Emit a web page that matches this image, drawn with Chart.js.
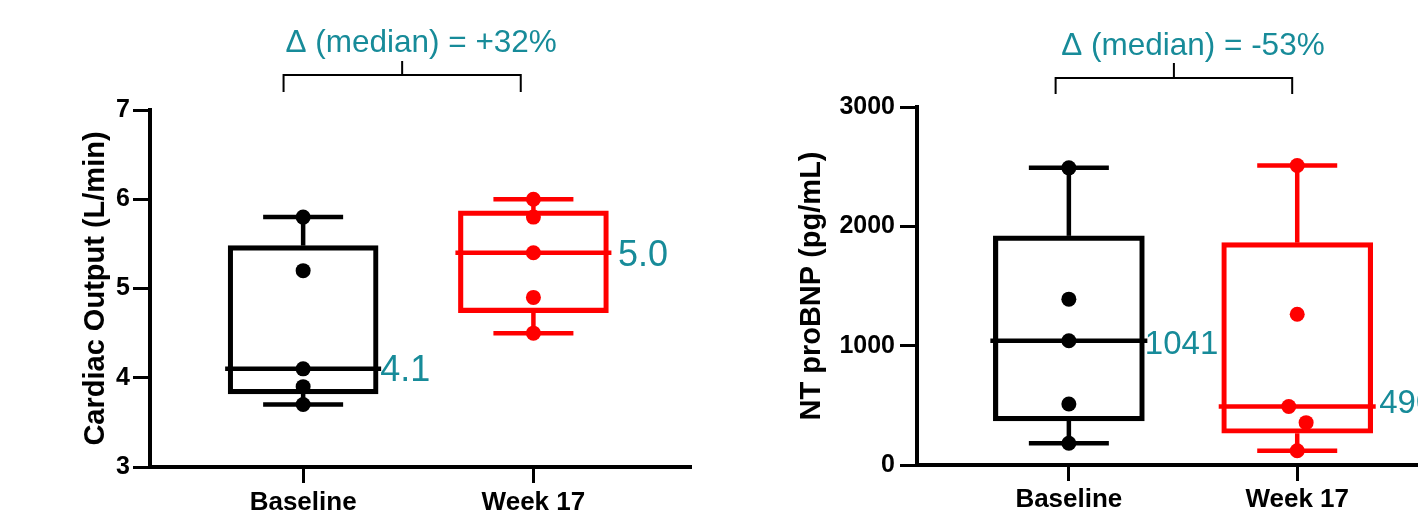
<!DOCTYPE html>
<html>
<head>
<meta charset="utf-8">
<script src="https://cdn.jsdelivr.net/npm/chart.js@4.4.1/dist/chart.umd.min.js"></script>
<style>
html, body { margin:0; padding:0; background:#fff; overflow:hidden; width:1418px; height:516px; }
#c1 { position:absolute; left:0; top:0; }
#c2 { position:absolute; left:700px; top:0; }
</style>
</head>
<body>
<canvas id="c1" width="700" height="516"></canvas>
<canvas id="c2" width="760" height="516"></canvas>
<script>
// ---------- data ----------
const CATEGORIES = ['Baseline', 'Week 17'];

// Cardiac output (L/min)
const CO_TICKS = [3, 4, 5, 6, 7];
const CO_BASELINE_POINTS = [5.8, 5.2, 4.1, 3.9, 3.7];
const CO_WEEK17_POINTS = [6.0, 5.8, 5.4, 4.9, 4.5];
const CO_MIN = [3.7, 4.5];
const CO_Q1 = [3.82, 4.73];
const CO_MEDIAN = [4.1, 5.4];
const CO_Q3 = [5.48, 5.87];
const CO_MAX = [5.8, 6.0];
const CO_MEDIAN_LABELS = ['4.1', '5.0'];
const CO_DELTA_TEXT = 'Δ (median) = +32%';
const CO_TITLE = 'Cardiac Output (L/min)';

// NT proBNP (pg/mL)
const BNP_TICKS = [0, 1000, 2000, 3000];
const BNP_BASELINE_POINTS = [2490, 1390, 1041, 511, 182];
const BNP_WEEK17_POINTS = [2510, 1263, 490, 355, 120];
const BNP_WEEK17_JITTER = [0, 0, -0.037, 0.039, 0];
const BNP_MIN = [182, 120];
const BNP_Q1 = [370, 266];
const BNP_MEDIAN = [1041, 490];
const BNP_Q3 = [1920, 1863];
const BNP_MAX = [2490, 2510];
const BNP_MEDIAN_LABELS = ['1041', '490'];
const BNP_DELTA_TEXT = 'Δ (median) = -53%';
const BNP_TITLE = 'NT proBNP (pg/mL)';

// ---------- styling ----------
const FONT = '"Liberation Sans", Arial, sans-serif';
const TEAL = '#178b99';
const GROUP_COLORS = ['#000000', '#ff0000'];
Chart.defaults.font.family = FONT;
Chart.defaults.color = '#000';

const boxExtras = {
  id: 'boxExtras',
  beforeDatasetsDraw(chart, args, o) {
    const ctx = chart.ctx, xs = chart.scales.x, ys = chart.scales.y;
    ctx.save();
    ctx.lineWidth = o.lineWidth;
    ctx.lineCap = 'butt';
    const seg = (x1, y1, x2, y2) => { ctx.beginPath(); ctx.moveTo(x1, y1); ctx.lineTo(x2, y2); ctx.stroke(); };
    for (let i = 0; i < o.min.length; i++) {
      const cx = xs.getPixelForValue(i + 1);
      ctx.strokeStyle = GROUP_COLORS[i];
      const pMin = ys.getPixelForValue(o.min[i]), pQ1 = ys.getPixelForValue(o.q1[i]);
      const pQ3 = ys.getPixelForValue(o.q3[i]), pMax = ys.getPixelForValue(o.max[i]);
      const pMed = ys.getPixelForValue(o.median[i]);
      seg(cx, pQ3, cx, pMax);
      seg(cx, pMin, cx, pQ1);
      seg(cx - o.capHalf, pMax, cx + o.capHalf, pMax);
      seg(cx - o.capHalf, pMin, cx + o.capHalf, pMin);
      seg(cx - o.boxHalf - 3, pMed, cx + o.boxHalf + 3, pMed);
    }
    ctx.restore();
  },
  afterDatasetsDraw(chart, args, o) {
    const ctx = chart.ctx, xs = chart.scales.x, ys = chart.scales.y;
    ctx.save();
    // median labels
    ctx.fillStyle = TEAL;
    ctx.font = o.labelSize + 'px ' + FONT;
    ctx.textAlign = 'left';
    ctx.textBaseline = 'alphabetic';
    for (let i = 0; i < o.labels.length; i++) {
      const cx = xs.getPixelForValue(i + 1);
      const py = ys.getPixelForValue(o.median[i]);
      ctx.fillText(o.labels[i], cx + o.boxHalf + o.labelDx[i], py + o.labelSize * 0.358 + o.labelDy[i]);
    }
    // bracket
    const b = o.bracket;
    const x1 = xs.getPixelForValue(b.x1), x2 = xs.getPixelForValue(b.x2);
    const xm = (x1 + x2) / 2;
    ctx.strokeStyle = '#000';
    ctx.lineWidth = 2;
    ctx.beginPath();
    ctx.moveTo(x1, b.endY); ctx.lineTo(x1, b.lineY); ctx.lineTo(x2, b.lineY); ctx.lineTo(x2, b.endY);
    ctx.moveTo(xm, b.lineY); ctx.lineTo(xm, b.stemY);
    ctx.stroke();
    ctx.fillStyle = TEAL;
    ctx.font = '31.5px ' + FONT;
    ctx.textAlign = 'center';
    ctx.fillText(o.deltaText, xm + 19, b.textY);
    ctx.restore();
  }
};

function makeChart(id, cfg) {
  const datasets = [
    {
      type: 'bar',
      data: cfg.q1.map((v, i) => ({ x: i + 1, y: [v, cfg.q3[i]] })),
      backgroundColor: 'rgba(0,0,0,0)',
      borderColor: GROUP_COLORS,
      borderWidth: 4.5,
      borderSkipped: false,
      barThickness: cfg.boxHalf * 2,
      grouped: false,
      order: 2
    },
    {
      type: 'scatter',
      data: cfg.points[0].map((y, j) => ({ x: 1 + (cfg.jitter[0][j] || 0), y })),
      backgroundColor: GROUP_COLORS[0], borderWidth: 0, pointRadius: 7.5, order: 1
    },
    {
      type: 'scatter',
      data: cfg.points[1].map((y, j) => ({ x: 2 + (cfg.jitter[1][j] || 0), y })),
      backgroundColor: GROUP_COLORS[1], borderWidth: 0, pointRadius: 7.5, order: 1
    }
  ];
  return new Chart(document.getElementById(id), {
    type: 'bar',
    data: { datasets },
    plugins: [boxExtras],
    options: {
      responsive: false,
      animation: false,
      layout: { padding: cfg.padding },
      plugins: {
        legend: { display: false },
        tooltip: { enabled: false },
        boxExtras: {
          min: cfg.min, q1: cfg.q1, median: cfg.median, q3: cfg.q3, max: cfg.max,
          labels: cfg.labels, labelDx: cfg.labelDx, labelDy: cfg.labelDy, labelSize: cfg.labelSize,
          capHalf: 40, boxHalf: cfg.boxHalf, lineWidth: 4.5,
          bracket: cfg.bracket, deltaText: cfg.deltaText
        }
      },
      scales: {
        x: {
          type: 'linear', min: 0.335, max: 2.68, offset: false,
          afterBuildTicks: s => { s.ticks = CATEGORIES.map((c, i) => ({ value: i + 1 })); },
          afterFit: s => { s.height = cfg.xHeight; },
          ticks: { callback: (v, i) => CATEGORIES[i], font: { size: 26, weight: 'bold' }, padding: cfg.xPad, maxRotation: 0, autoSkip: false },
          grid: { display: true, drawOnChartArea: false, drawTicks: true, tickLength: 16, color: '#000', lineWidth: 3, offset: false },
          border: { display: true, color: '#000', width: 4 }
        },
        y: {
          type: 'linear', min: cfg.ticks[0], max: cfg.ticks[cfg.ticks.length - 1],
          afterBuildTicks: s => { s.ticks = cfg.ticks.map(v => ({ value: v })); },
          afterFit: s => { s.width = cfg.yWidth; },
          ticks: { callback: v => String(v), font: { size: 25, weight: 'bold' }, padding: cfg.yPad },
          grid: { display: true, drawOnChartArea: false, drawTicks: true, tickLength: 17, color: '#000', lineWidth: 3 },
          border: { display: true, color: '#000', width: 4 },
          title: { display: true, text: cfg.title, font: { size: 29, weight: 'bold' }, color: '#000', padding: { top: 0, bottom: 0 } }
        }
      }
    }
  });
}

makeChart('c1', {
  ticks: CO_TICKS, points: [CO_BASELINE_POINTS, CO_WEEK17_POINTS], jitter: [[], []],
  min: CO_MIN, q1: CO_Q1, median: CO_MEDIAN, q3: CO_Q3, max: CO_MAX,
  labels: CO_MEDIAN_LABELS, labelDx: [2, 9.5], labelDy: [-0.5, 0], labelSize: 36,
  boxHalf: 75, title: CO_TITLE, deltaText: CO_DELTA_TEXT,
  padding: { left: 79, right: 10, top: 110, bottom: 0 },
  yWidth: 71, xHeight: 49, yPad: 3, xPad: 4,
  bracket: { x1: 0.915, x2: 1.945, lineY: 75, endY: 92, stemY: 61, textY: 52.3 }
});

makeChart('c2', {
  ticks: BNP_TICKS, points: [BNP_BASELINE_POINTS, BNP_WEEK17_POINTS], jitter: [[], BNP_WEEK17_JITTER],
  min: BNP_MIN, q1: BNP_Q1, median: BNP_MEDIAN, q3: BNP_Q3, max: BNP_MAX,
  labels: BNP_MEDIAN_LABELS, labelDx: [0.5, 6.5], labelDy: [1, -5], labelSize: 33,
  boxHalf: 75.5, title: BNP_TITLE, deltaText: BNP_DELTA_TEXT,
  padding: { left: 95, right: 2, top: 107, bottom: 0 },
  yWidth: 122, xHeight: 51, yPad: 5, xPad: 3,
  bracket: { x1: 0.942, x2: 1.978, lineY: 78, endY: 94, stemY: 63, textY: 55 }
});
</script>
</body>
</html>
